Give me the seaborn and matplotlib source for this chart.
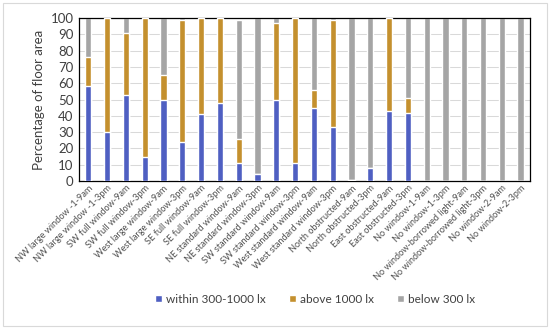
import numpy as np
import pandas as pd
import seaborn as sns
import matplotlib.pyplot as plt
from matplotlib.patches import Rectangle

# bar categories (room - time)
rooms = ["NW large window -1-9am", "NW large window -1-3pm", "SW full window-9am",
         "SW full window-3pm", "West large window-9am", "West large window-3pm",
         "SE full window-9am", "SE full window-3pm", "NE standard window-9am",
         "NE standard window-3pm", "SW standard window-9am", "SW standard window-3pm",
         "West standard window-9am", "West standard window-3pm", "North obstructed-9am",
         "North obstructed-3pm", "East obstructed-9am", "East obstructed-3pm",
         "No window-1-9am", "No window-1-3pm", "No window-borrowed light-9am",
         "No window-borrowed light-3pm", "No window-2-9am", "No window-2-3pm"]

# percentage of floor area
within = [58, 30, 53, 15, 50, 24, 41, 48, 11, 4, 50, 11, 45, 33, 0.5, 8, 43, 42, 0, 0, 0, 0, 0, 0]
above = [18, 70, 38, 85, 15, 75, 59, 52, 15, 0, 47, 89, 11, 66, 0, 0, 57, 9, 0, 0, 0, 0, 0, 0]
below = [24, 0, 9, 0, 35, 1, 0, 0, 73, 96, 3, 0, 44, 1, 99.5, 92, 0, 49, 100, 100, 100, 100, 100, 100]

df = pd.DataFrame({"room": rooms, "within": within, "above": above, "below": below})
df["top_above"] = df["within"] + df["above"]
df["top_below"] = df["top_above"] + df["below"]

c_within = "#4F5FC2"
c_above = "#C4902E"
c_below = "#A5A5A5"

sns.set_style("white")
plt.rcParams["font.family"] = ["Lato", "DejaVu Sans"]

fig = plt.figure(figsize=(5.5, 3.29), dpi=100)
ax = fig.add_axes([0.1436, 0.45, 0.82, 0.495])

# stacked by overdrawing cumulative heights
sns.barplot(data=df, x="room", y="top_below", color=c_below, width=0.33,
            saturation=1, ax=ax, label="below 300 lx", zorder=2)
sns.barplot(data=df, x="room", y="top_above", color=c_above, width=0.33,
            saturation=1, ax=ax, label="above 1000 lx", zorder=3)
sns.barplot(data=df, x="room", y="within", color=c_within, width=0.33,
            saturation=1, ax=ax, label="within 300-1000 lx", zorder=4)

ax.set_ylim(0, 100)
ax.set_xlim(-0.5, len(rooms) - 0.5)
ax.set_yticks(np.arange(0, 101, 10))
ax.yaxis.grid(True, color="#D9D9D9", linewidth=0.75, zorder=0)
ax.set_axisbelow(True)
for s in ax.spines.values():
    s.set_color("black")
    s.set_linewidth(0.9)

ax.set_xlabel("")
ax.set_ylabel("Percentage of floor area", fontsize=9.5, color="#404040", labelpad=4)
ax.tick_params(axis="y", labelsize=9.5, colors="#404040", length=0, pad=4)
ax.tick_params(axis="x", length=0, pad=2)
ax.set_xticks(range(len(rooms)))
ax.set_xticklabels(rooms, rotation=45, ha="right", rotation_mode="anchor",
                   fontsize=6.6, color="#505050")

handles, labels = ax.get_legend_handles_labels()
order = [labels.index(l) for l in ["within 300-1000 lx", "above 1000 lx", "below 300 lx"]]
fig.legend([handles[i] for i in order], [labels[i] for i in order],
           loc="center", bbox_to_anchor=(0.573, 0.091), ncol=3, frameon=False,
           fontsize=8.5, handlelength=0.6, handleheight=0.6, columnspacing=2.0,
           handletextpad=0.3, labelcolor="#404040")
if ax.get_legend():
    ax.get_legend().remove()

fig.patches.append(Rectangle((0.005, 0.008), 0.99, 0.984, transform=fig.transFigure,
                             fill=False, edgecolor="#D9D9D9", linewidth=0.8))

fig.savefig("out.png", dpi=100)
